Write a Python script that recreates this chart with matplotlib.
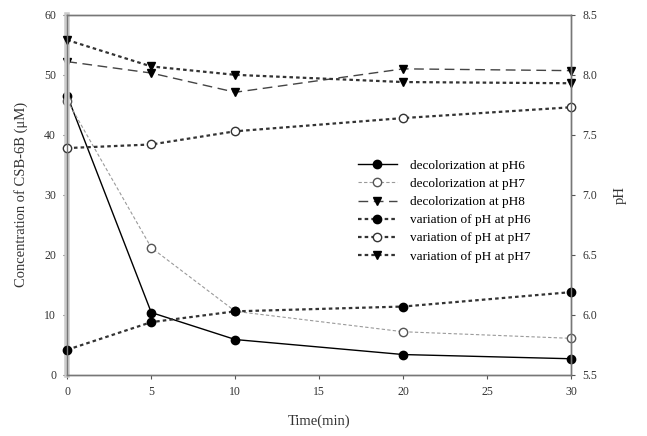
import numpy as np
import matplotlib
matplotlib.use("Agg")
import matplotlib.pyplot as plt

plt.rcParams['font.family'] = ['Liberation Serif', 'DejaVu Serif']

# time points (min)
time = [0, 5, 10, 20, 30]

# concentration of CSB-6B (uM), left axis
decol_ph6 = [46.5, 10.4, 5.9, 3.4, 2.7]
decol_ph7 = [45.7, 21.2, 10.6, 7.2, 6.1]
decol_ph8 = [52.2, 50.3, 47.1, 51.0, 50.7]

# pH values, right axis
ph_var6 = [5.71, 5.94, 6.03, 6.07, 6.19]
ph_var7 = [7.39, 7.42, 7.53, 7.64, 7.73]
ph_var8 = [8.29, 8.07, 8.00, 7.94, 7.93]

labels = ["decolorization at pH6", "decolorization at pH7", "decolorization at pH8",
          "variation of pH at pH6", "variation of pH at pH7", "variation of pH at pH7"]

fig, ax = plt.subplots(figsize=(6.47, 4.36), dpi=100)
fig.subplots_adjust(left=0.104, right=0.883, top=0.966, bottom=0.14)
ax2 = ax.twinx()

dots = (0, (1.6, 1.4))
ms = 6
h = []
h += ax.plot(time, decol_ph6, color="black", lw=1.0, marker="o", ms=ms,
             mfc="black", mec="black", clip_on=False)
h += ax.plot(time, decol_ph7, color="#9a9a9a", lw=0.8, ls=(0, (3, 2)), marker="o", ms=ms,
             mfc="white", mec="#555555", clip_on=False)
h += ax.plot(time, decol_ph8, color="#444444", lw=1.0, ls=(0, (7, 4)), marker="v", ms=ms,
             mfc="black", mec="black", clip_on=False)
h += ax2.plot(time, ph_var6, color="#333333", lw=1.6, ls=dots, marker="o", ms=ms,
              mfc="black", mec="black", clip_on=False)
h += ax2.plot(time, ph_var7, color="#333333", lw=1.6, ls=dots, marker="o", ms=ms,
              mfc="white", mec="#333333", clip_on=False)
h += ax2.plot(time, ph_var8, color="#333333", lw=1.6, ls=dots, marker="v", ms=ms,
              mfc="black", mec="black", clip_on=False)

ax.set_xlim(0, 30)
ax.set_ylim(0, 60)
ax2.set_ylim(5.5, 8.5)
ax.set_xticks(np.arange(0, 31, 5))
ax.set_yticks(np.arange(0, 61, 10))
ax2.set_yticks(np.arange(5.5, 8.51, 0.5))
ax2.set_yticklabels([f"{v:.1f}" for v in np.arange(5.5, 8.51, 0.5)])

for a in (ax, ax2):
    for s in a.spines.values():
        s.set_color("#777777")
        s.set_linewidth(1.0)
    a.tick_params(direction="out", length=3, width=0.8, colors="#555555",
                  labelsize=8.5, labelcolor="#333333", pad=5)
ax.spines['left'].set_linewidth(4)
ax.spines['left'].set_color("#cccccc")

ax.set_xlabel("Time(min)", fontsize=10.5, color="#333333", labelpad=12)
ax.set_ylabel("Concentration of CSB-6B (\u03bcM)", fontsize=10.5, color="#333333",
              labelpad=12)
ax2.set_ylabel("pH", fontsize=10.5, color="#333333", labelpad=12)

ax2.legend(h, labels, loc="center", bbox_to_anchor=(0.748, 0.455), frameon=False,
           fontsize=9.5, handlelength=3.0, labelspacing=0.45, handletextpad=1.0)

plt.savefig("out.png", dpi=100)
